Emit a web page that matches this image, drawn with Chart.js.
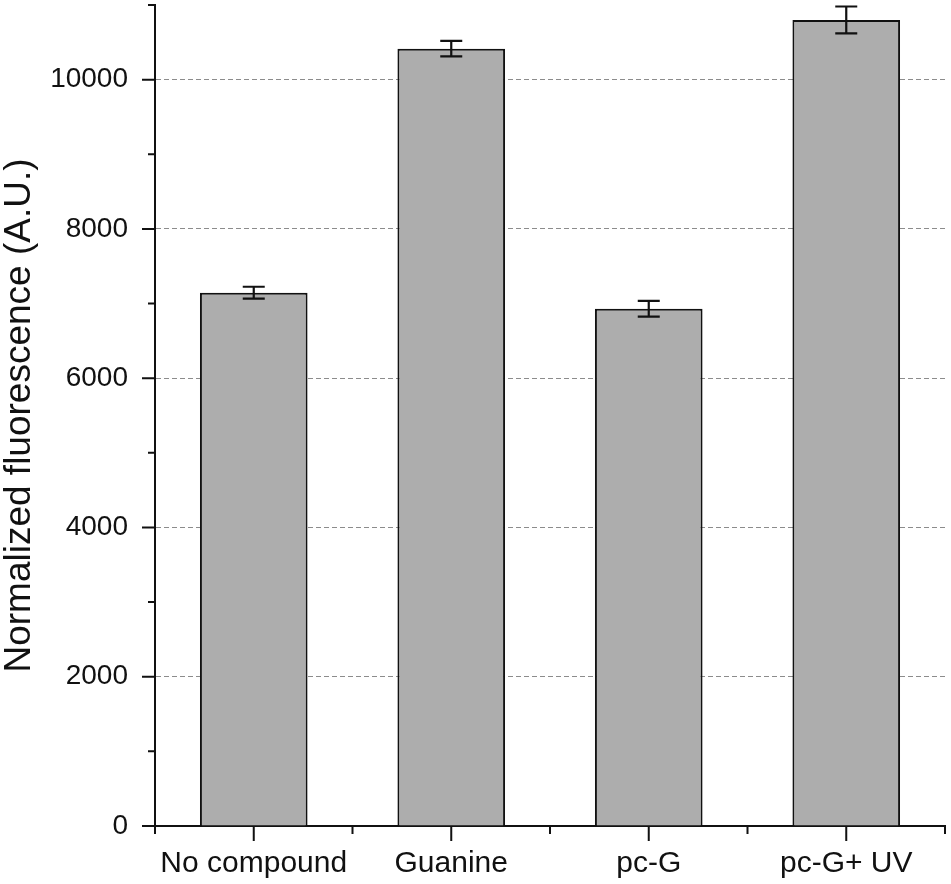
<!DOCTYPE html>
<html>
<head>
<meta charset="utf-8">
<script src="https://cdn.jsdelivr.net/npm/chart.js@4"></script>
<style>
  html, body { margin: 0; padding: 0; background: #fff; }
  #wrap { width: 951px; height: 884px; }
</style>
</head>
<body>
<div id="wrap"><canvas id="c" width="951" height="884"></canvas></div>
<script>
const categories = ['No compound', 'Guanine', 'pc-G', 'pc-G+ UV'];
const values = [7145, 10415, 6930, 10800];
const errors = [80, 103, 105, 180];
const yTickValues = [0, 2000, 4000, 6000, 8000, 10000];
const yMinorTickValues = [1000, 3000, 5000, 7000, 9000, 11000];
const yTitle = 'Normalized fluorescence (A.U.)';

const FONT = "'Liberation Sans', Arial, Helvetica, sans-serif";

const errorBarPlugin = {
  id: 'errorBars',
  afterDatasetsDraw(chart) {
    const ctx = chart.ctx;
    const xs = chart.scales.x, ys = chart.scales.y;
    ctx.save();
    ctx.strokeStyle = '#111';
    ctx.lineWidth = 2.2;
    values.forEach((v, i) => {
      const x = xs.getPixelForValue(i);
      const yT = ys.getPixelForValue(v + errors[i]);
      const yB = ys.getPixelForValue(v - errors[i]);
      const cw = 11;
      ctx.beginPath();
      ctx.moveTo(x, yT); ctx.lineTo(x, yB);
      ctx.moveTo(x - cw, yT); ctx.lineTo(x + cw, yT);
      ctx.moveTo(x - cw, yB); ctx.lineTo(x + cw, yB);
      ctx.stroke();
    });
    ctx.restore();
  }
};

const axisTicksPlugin = {
  id: 'axisTicks',
  afterDraw(chart) {
    const ctx = chart.ctx;
    const xs = chart.scales.x, ys = chart.scales.y;
    const area = chart.chartArea;
    ctx.save();
    ctx.strokeStyle = '#111';
    ctx.lineWidth = 2;
    ctx.beginPath();
    yTickValues.forEach(v => {
      const y = ys.getPixelForValue(v);
      ctx.moveTo(area.left - 13, y); ctx.lineTo(area.left, y);
    });
    yMinorTickValues.forEach(v => {
      const y = ys.getPixelForValue(v);
      ctx.moveTo(area.left - 7, y); ctx.lineTo(area.left, y);
    });
    categories.forEach((c, i) => {
      const x = xs.getPixelForValue(i);
      ctx.moveTo(x, area.bottom); ctx.lineTo(x, area.bottom + 15);
    });
    for (let i = 0; i <= categories.length; i++) {
      const x = xs.getPixelForValue(i - 0.5);
      ctx.moveTo(x, area.bottom); ctx.lineTo(x, area.bottom + 8);
    }
    ctx.stroke();
    ctx.restore();
  }
};

new Chart(document.getElementById('c'), {
  type: 'bar',
  data: {
    labels: categories,
    datasets: [{
      data: values,
      backgroundColor: '#adadad',
      borderColor: '#111',
      borderWidth: 2,
      categoryPercentage: 1.0,
      barPercentage: 0.545
    }]
  },
  options: {
    responsive: false,
    animation: false,
    devicePixelRatio: 1,
    layout: { padding: { top: 5, right: 6, left: 0, bottom: 0 } },
    plugins: { legend: { display: false }, tooltip: { enabled: false } },
    scales: {
      x: {
        grid: { display: false, drawTicks: false },
        border: { display: true, color: '#111', width: 2 },
        ticks: { color: '#111', font: { family: FONT, size: 30 }, padding: 20, maxRotation: 0, autoSkip: false },
        afterFit(s) { s.height = 58; s.paddingLeft = 0; s.paddingRight = 0; }
      },
      y: {
        min: 0, max: 11000,
        afterBuildTicks(s) { s.ticks = yTickValues.map(v => ({ value: v })); },
        grid: {
          drawTicks: false,
          color: (c) => (c.tick && c.tick.value === 0) ? 'rgba(0,0,0,0)' : '#8c8c8c',
          lineWidth: 1
        },
        border: { display: true, color: '#111', width: 2, dash: [5, 3], dashOffset: 0 },
        ticks: { color: '#111', font: { family: FONT, size: 28 }, padding: 27, autoSkip: false, callback: (v) => String(v) },
        title: { display: true, text: yTitle, color: '#111', font: { family: FONT, size: 37, lineHeight: 1.0 }, padding: { top: 1, bottom: 0 } },
        afterFit(s) { s.width = 155; s.paddingTop = 0; s.paddingBottom = 0; }
      }
    }
  },
  plugins: [errorBarPlugin, axisTicksPlugin]
});
</script>
</body>
</html>
